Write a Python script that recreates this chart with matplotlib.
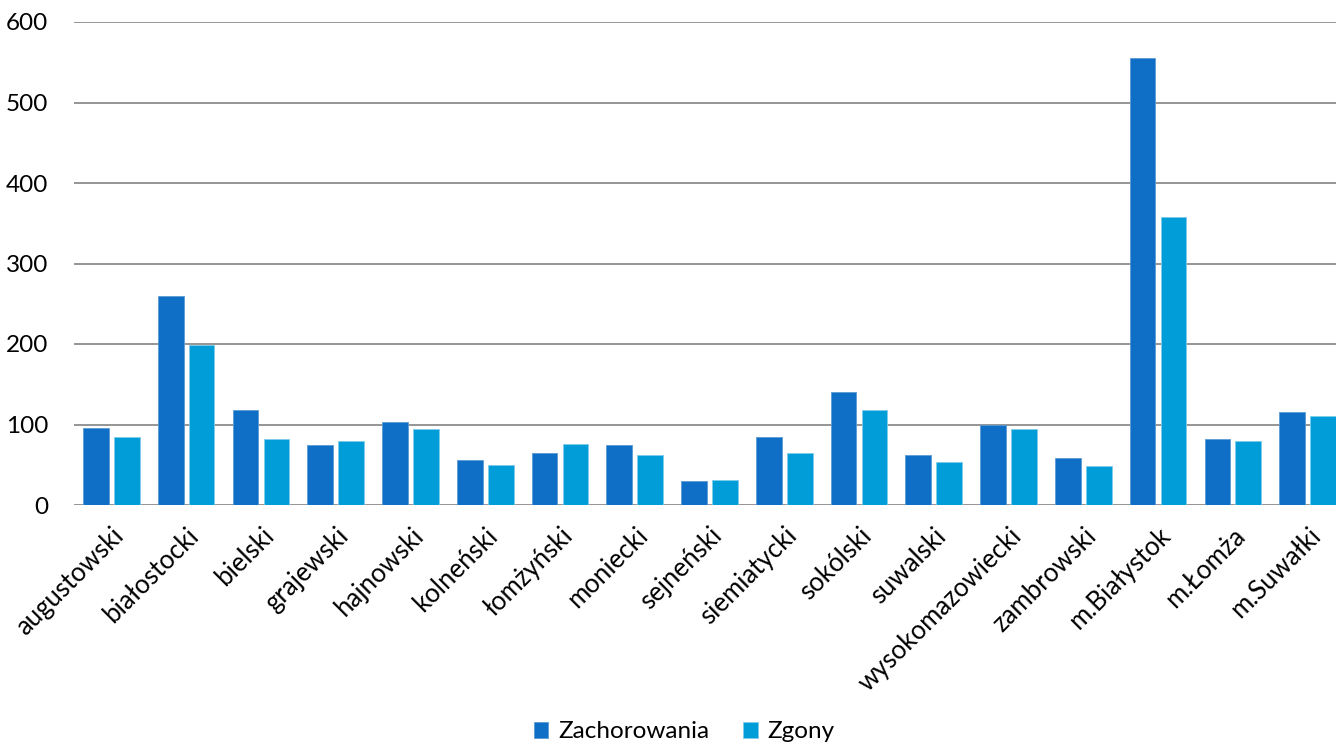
import numpy as np
import matplotlib.pyplot as plt

# Powiaty
powiaty = ["augustowski", "białostocki", "bielski", "grajewski", "hajnowski",
           "kolneński", "łomżyński", "moniecki", "sejneński", "siemiatycki",
           "sokólski", "suwalski", "wysokomazowiecki", "zambrowski",
           "m.Białystok", "m.Łomża", "m.Suwałki"]

zachorowania = [96, 260, 118, 74, 103, 56, 65, 74, 30, 85, 140, 62, 100, 58, 555, 82, 116]
zgony = [84, 199, 82, 79, 95, 50, 76, 62, 31, 64, 118, 53, 95, 49, 358, 80, 111]

kolor_z = "#0F6FC6"
kolor_zg = "#009DD9"

plt.rcParams["font.family"] = ["Lato", "DejaVu Sans"]
fs = 17.5

fig = plt.figure(figsize=(13.36, 7.46), dpi=100)
ax = fig.add_axes([74 / 1336, 1 - 505 / 746, (1345 - 74) / 1336, (505 - 22) / 746])

x = np.arange(len(powiaty))
w = 0.344
off = 0.207
ax.bar(x - off, zachorowania, w, color=kolor_z, edgecolor="#5B9BD5", linewidth=0.6,
       label="Zachorowania", zorder=3)
ax.bar(x + off, zgony, w, color=kolor_zg, edgecolor="#7FCBEA", linewidth=0.6,
       label="Zgony", zorder=3)

ax.set_xlim(-0.5, len(powiaty) - 0.5)
ax.set_ylim(0, 600)
ax.set_yticks(range(0, 601, 100))
ax.yaxis.grid(True, color="#8C8C8C", linewidth=1.3)
ax.set_axisbelow(True)
for s in ax.spines.values():
    s.set_visible(False)
ax.tick_params(axis="both", length=0, labelsize=fs, colors="black")
ax.tick_params(axis="y", pad=18.5)
ax.tick_params(axis="x", pad=13, labelsize=18.5)

ax.set_xticks(x)
ax.set_xticklabels(powiaty, rotation=45, ha="right", rotation_mode="anchor")

ax.legend(loc="center", bbox_to_anchor=(684 / 1336, 1 - 732 / 746), bbox_transform=fig.transFigure,
          ncol=2, frameon=False, fontsize=fs, handlelength=0.6, handleheight=0.6,
          columnspacing=1.4, handletextpad=0.4)

fig.savefig("out.png", dpi=100)
